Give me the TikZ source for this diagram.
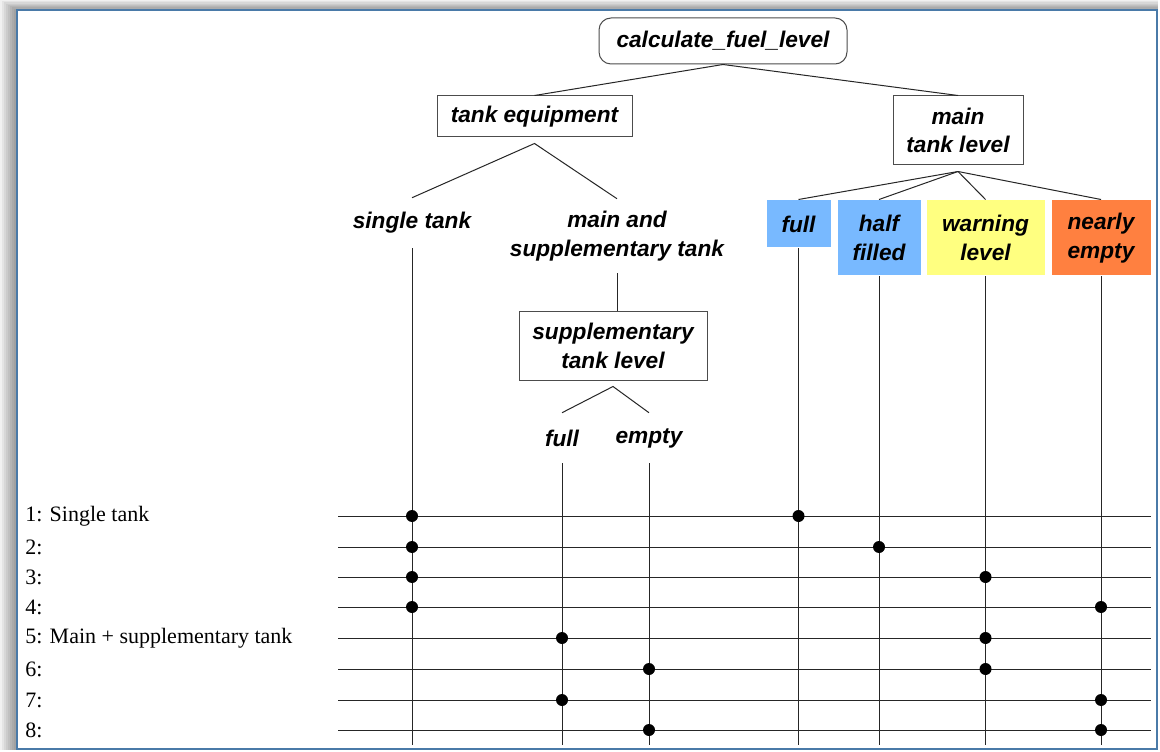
\documentclass[tikz,border=0pt]{standalone}
\usepackage{fontspec}
\setmainfont{Liberation Serif}
\newfontfamily\treefont{Liberation Sans}
\usetikzlibrary{calc}
\definecolor{framebl}{RGB}{74,122,168}
\definecolor{lvlblue}{RGB}{120,185,255}
\definecolor{lvlyellow}{RGB}{255,255,128}
\definecolor{lvlorange}{RGB}{255,128,64}

\begin{document}
\begin{tikzpicture}[x=0.75pt,y=-0.75pt,
  lbl/.style={font=\treefont\bfseries\itshape\fontsize{17}{21.5}\selectfont,
              align=center, inner sep=0pt},
  box/.style={lbl, draw=black!70, line width=0.75pt},
  lvl/.style={lbl, fill=#1, draw=white, line width=0.75pt},
  conn/.style={draw=black!85, line width=0.75pt},
  rowline/.style={draw=black!85, line width=0.75pt},
  rowlbl/.style={font=\fontsize{16.5}{18}\selectfont, inner sep=0pt, anchor=west},
  dot/.style={circle, fill=black, inner sep=0pt, minimum size=9pt}]

\useasboundingbox (0,0) rectangle (1160,752);

% soft drop shadow to the upper left of the frame
\foreach \k in {0,...,7}
  \fill[black, opacity=0.055] (2*\k, 1.25*\k) rectangle (1158,750);
\draw[framebl, line width=1.5pt, fill=white] (16.5,10.5) rectangle (1157,749);

% decision tree
\node[box, rounded corners=9pt, minimum width=186pt, minimum height=34.5pt]
  (root) at (723,41) {calculate\_fuel\_level};
\node[box, minimum width=146.25pt, minimum height=30.75pt]
  (teq) at (534.5,116.5) {tank equipment};
\node[box, minimum width=97.5pt, minimum height=51.75pt]
  (mtl) at (958,130.5) {main\\tank level};

\node[lbl, minimum height=37.5pt] (single) at (412,223) {single tank};
\node[lbl, minimum height=55.5pt] (mands) at (617,236) {main and\\supplementary tank};
\node[box, minimum width=141pt, minimum height=51pt]
  (stl) at (613,346) {supplementary\\tank level};
\node[lbl, minimum height=37.5pt] (sfull) at (562,438) {full};
\node[lbl, minimum height=37.5pt] (sempty) at (649,438) {empty};

\node[lvl=lvlblue, minimum width=48.75pt, minimum height=36pt]
  (lfull) at (798.5,224) {full};
\node[lvl=lvlblue, minimum width=63pt, minimum height=57pt]
  (lhalf) at (879,238) {half\\filled};
\node[lvl=lvlyellow, minimum width=89.25pt, minimum height=57pt]
  (lwarn) at (985.5,238) {warning\\level};
\node[lvl=lvlorange, minimum width=75pt, minimum height=57pt]
  (lnear) at (1101,238) {nearly\\empty};

\coordinate (teqfork) at ($(teq.south)+(0,6)$);
\coordinate (mtlfork) at ($(mtl.south)+(0,6)$);
\coordinate (stlfork) at ($(stl.south)+(0,6)$);
\coordinate (bottom) at (0,745);

\draw[conn] (teq.north) -- (root.south) -- (mtl.north);
\draw[conn] (single.north) -- (teqfork) -- (mands.north);
\draw[conn] (mands.south) -- (mands.south |- stl.north);
\draw[conn] (sfull.north) -- (stlfork) -- (sempty.north);
\foreach \n in {lfull,lhalf,lwarn,lnear}
  \draw[conn] (mtlfork) -- (\n.north);

% one vertical line per leaf
\foreach \n in {single,sfull,sempty,lfull,lhalf,lwarn,lnear}
  \draw[conn] (\n.south) -- (\n.south |- bottom);

% test-case rows
\foreach \i/\y/\t in {1/516/{1: Single tank},2/547/{2:},3/577/{3:},4/607/{4:},
                      5/638/{5: Main + supplementary tank},6/669/{6:},7/700/{7:},8/730/{8:}}{
  \coordinate (r\i) at (338,\y);
  \coordinate (re\i) at (1151,\y);
  \draw[rowline] (r\i) -- (re\i);
  \node[rowlbl] (lab\i) at (25,\y) {\t};
}

% chosen classes for each test case
\foreach \i/\c in {1/single,1/lfull,2/single,2/lhalf,3/single,3/lwarn,4/single,4/lnear,
                   5/sfull,5/lwarn,6/sempty,6/lwarn,7/sfull,7/lnear,8/sempty,8/lnear}
  \node[dot] at (\c.south |- r\i) {};

\end{tikzpicture}
\end{document}
